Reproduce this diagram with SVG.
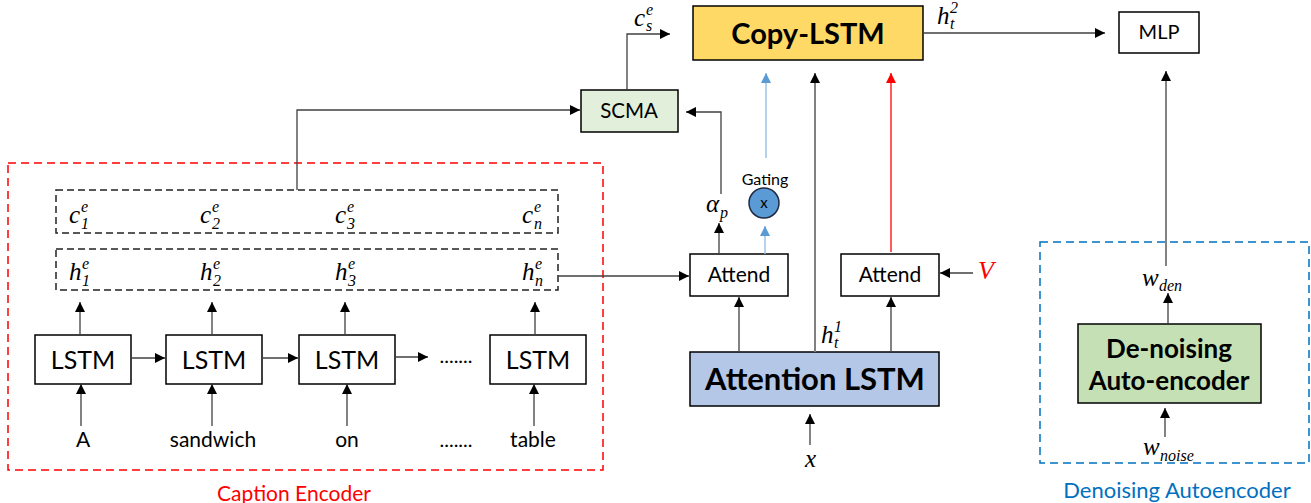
<svg xmlns="http://www.w3.org/2000/svg" width="1311" height="503" viewBox="0 0 1311 503">
<defs>
<marker id="ah" viewBox="0 0 10 10" refX="10" refY="5" markerWidth="10" markerHeight="10" markerUnits="userSpaceOnUse" orient="auto"><path d="M0,0 L10,5 L0,10 z" fill="#000"/></marker>
<marker id="ahb" viewBox="0 0 10 10" refX="10" refY="5" markerWidth="10" markerHeight="10" markerUnits="userSpaceOnUse" orient="auto"><path d="M0,0 L10,5 L0,10 z" fill="#5B9BD5"/></marker>
<marker id="ahr" viewBox="0 0 10 10" refX="10" refY="5" markerWidth="10" markerHeight="10" markerUnits="userSpaceOnUse" orient="auto"><path d="M0,0 L10,5 L0,10 z" fill="#FF0000"/></marker>
</defs>
<style>
.box{fill:#fff;stroke:#000;stroke-width:1.5}
.t{font-family:Lato,"Liberation Sans",sans-serif;fill:#000;text-anchor:middle}
.b{font-weight:bold}
.m{font-family:"Liberation Serif",serif;font-style:italic;fill:#000}
.ms{font-family:"Liberation Serif",serif;font-style:italic;fill:#000;font-size:16px}
.arr{fill:none;stroke:#404040;stroke-width:1.3;marker-end:url(#ah)}
.dash{fill:none;stroke:#222;stroke-width:1.5;stroke-dasharray:7,4}
</style>
<rect width="1311" height="503" fill="#fff"/>

<g id="caption-encoder">
<rect x="8" y="163" width="595" height="307" fill="none" stroke="#FF0000" stroke-width="1.5" stroke-dasharray="8,5"/>
<text class="t" x="294" y="501" font-size="21" style="fill:#FF0000">Caption Encoder</text>
</g>

<g id="c-states">
<rect class="dash" x="56" y="190" width="502" height="43"/>
<text class="m" x="69" y="223" font-size="25">c</text><text class="ms" x="81" y="212">e</text><text class="ms" x="81" y="229">1</text>
<text class="m" x="200" y="223" font-size="25">c</text><text class="ms" x="212" y="212">e</text><text class="ms" x="212" y="229">2</text>
<text class="m" x="335" y="223" font-size="25">c</text><text class="ms" x="347" y="212">e</text><text class="ms" x="347" y="229">3</text>
<text class="m" x="522" y="223" font-size="25">c</text><text class="ms" x="534" y="212">e</text><text class="ms" x="534" y="229">n</text>
</g>

<g id="h-states">
<rect class="dash" x="56" y="249" width="502" height="41"/>
<text class="m" x="69" y="280" font-size="25">h</text><text class="ms" x="82" y="269">e</text><text class="ms" x="82" y="286">1</text>
<text class="m" x="200" y="280" font-size="25">h</text><text class="ms" x="213" y="269">e</text><text class="ms" x="213" y="286">2</text>
<text class="m" x="335" y="280" font-size="25">h</text><text class="ms" x="348" y="269">e</text><text class="ms" x="348" y="286">3</text>
<text class="m" x="522" y="280" font-size="25">h</text><text class="ms" x="535" y="269">e</text><text class="ms" x="535" y="286">n</text>
</g>

<g id="lstm1"><rect class="box" x="35" y="335" width="96" height="49"/><text class="t" x="83" y="369" font-size="25">LSTM</text></g>
<g id="lstm2"><rect class="box" x="166" y="335" width="96" height="49"/><text class="t" x="214" y="369" font-size="25">LSTM</text></g>
<g id="lstm3"><rect class="box" x="299" y="335" width="96" height="49"/><text class="t" x="347" y="369" font-size="25">LSTM</text></g>
<g id="lstm4"><rect class="box" x="490" y="335" width="96" height="49"/><text class="t" x="538" y="369" font-size="25">LSTM</text></g>

<g id="inputs">
<text class="t" x="83" y="447" font-size="21">A</text>
<text class="t" x="213" y="447" font-size="21">sandwich</text>
<text class="t" x="347" y="447" font-size="21">on</text>
<text class="t" x="456" y="447" font-size="20">.......</text>
<text class="t" x="456" y="363" font-size="20">.......</text>
<text class="t" x="533" y="447" font-size="21">table</text>
</g>

<g id="scma"><rect x="581" y="90" width="97" height="42" fill="#E2EFDA" stroke="#000" stroke-width="1.5"/><text class="t" x="629" y="118" font-size="20.5">SCMA</text></g>

<g id="copy-lstm"><rect x="693" y="6" width="230" height="54" fill="#FFD966" stroke="#000" stroke-width="1.5"/><text class="t b" x="808" y="44" font-size="29">Copy-LSTM</text></g>

<g id="mlp"><rect class="box" x="1119" y="12" width="80" height="41"/><text class="t" x="1159" y="39" font-size="20">MLP</text></g>

<g id="attend1"><rect class="box" x="690" y="254" width="98" height="42"/><text class="t" x="739" y="282" font-size="21">Attend</text></g>
<g id="attend2"><rect class="box" x="841" y="254" width="98" height="42"/><text class="t" x="890" y="282" font-size="21">Attend</text></g>

<g id="attention-lstm"><rect x="690" y="352" width="249" height="54" fill="#B4C7E7" stroke="#000" stroke-width="1.5"/><text class="t b" x="815" y="390" font-size="31">Attention LSTM</text></g>

<g id="gating">
<text class="t" x="765" y="185" font-size="16">Gating</text>
<circle cx="764" cy="203" r="15" fill="#5B9BD5" stroke="#1F2A44" stroke-width="1.5"/>
<text class="t" x="764" y="208" font-size="15">x</text>
</g>

<g id="denoising-autoencoder">
<rect x="1040" y="242" width="269" height="221" fill="none" stroke="#0070C0" stroke-width="1.5" stroke-dasharray="8,5"/>
<text class="t" x="1177" y="498" font-size="22" style="fill:#0070C0">Denoising Autoencoder</text>
<rect x="1078" y="324" width="183" height="79" fill="#C5E0B4" stroke="#000" stroke-width="1.5"/>
<text class="t b" x="1169" y="358" font-size="26">De-noising</text>
<text class="t b" x="1169" y="390" font-size="26">Auto-encoder</text>
</g>

<g id="labels">
<text class="m" x="634" y="26" font-size="25">c</text><text class="ms" x="646" y="15">e</text><text class="ms" x="646" y="31">s</text>
<text class="m" x="937" y="24" font-size="25">h</text><text class="ms" x="950" y="13">2</text><text class="ms" x="950" y="29">t</text>
<text class="m" x="706" y="212" font-size="25">α</text><text class="ms" x="720" y="218">p</text>
<text class="m" x="821" y="343" font-size="25">h</text><text class="ms" x="834" y="332">1</text><text class="ms" x="834" y="348">t</text>
<text class="m" x="978" y="279" font-size="26" style="fill:#FF0000">V</text>
<text class="m" x="805" y="467" font-size="25">x</text>
<text class="m" x="1142" y="286" font-size="25">w</text><text class="ms" x="1159" y="291">den</text>
<text class="m" x="1143" y="455" font-size="25">w</text><text class="ms" x="1160" y="461">noise</text>
</g>

<g id="connectors">
<path class="arr" d="M80,335 V302"/>
<path class="arr" d="M212,335 V302"/>
<path class="arr" d="M345,335 V302"/>
<path class="arr" d="M535,335 V302"/>
<path class="arr" d="M81,426 V384"/>
<path class="arr" d="M212,426 V384"/>
<path class="arr" d="M347,426 V384"/>
<path class="arr" d="M534,426 V384"/>
<path class="arr" d="M131,358 H165"/>
<path class="arr" d="M262,358 H298"/>
<path class="arr" d="M395,357 H428"/>
<path class="arr" d="M558,276 H689"/>
<path class="arr" d="M297,190 V110 H580"/>
<path class="arr" d="M627,90 V34 H670"/>
<path class="arr" d="M721,194 V112 H686"/>
<path class="arr" d="M719,254 V223"/>
<path d="M765,254 V226" fill="none" stroke="#9DC3E6" stroke-width="1.5" marker-end="url(#ahb)"/>
<path d="M766,158 V73" fill="none" stroke="#9DC3E6" stroke-width="1.5" marker-end="url(#ahb)"/>
<path d="M815,352 V73" fill="none" stroke="#808080" stroke-width="2" marker-end="url(#ah)"/>
<path d="M891,252 V73" fill="none" stroke="#FF0000" stroke-width="1.3" marker-end="url(#ahr)"/>
<path class="arr" d="M739,352 V297"/>
<path class="arr" d="M891,352 V297"/>
<path class="arr" d="M973,273 H940"/>
<path class="arr" d="M810,445 V414"/>
<path class="arr" d="M923,33 H1105"/>
<path class="arr" d="M1166,266 V71"/>
<path class="arr" d="M1168,324 V293"/>
<path class="arr" d="M1165,437 V408"/>
</g>
</svg>
